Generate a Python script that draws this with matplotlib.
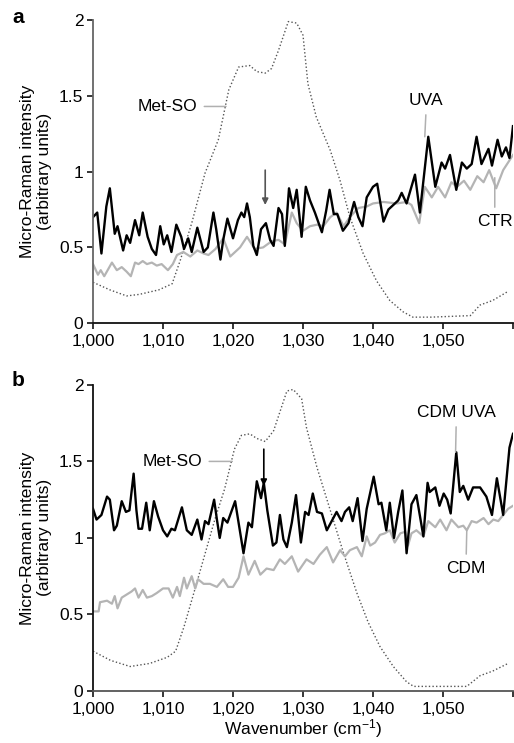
import matplotlib
matplotlib.use('Agg')
import matplotlib.pyplot as plt
from matplotlib.ticker import FixedLocator, FixedFormatter

plt.rcParams['font.family'] = ['Liberation Sans', 'DejaVu Sans']
plt.rcParams['mathtext.default'] = 'regular'
plt.rcParams['font.size'] = 12.5
plt.rcParams['lines.solid_joinstyle'] = 'round'

# ---- panel a: UVA (black), CTR (grey), Met-SO reference (dotted)
uva_a_x = [1000.0, 1000.6, 1001.2, 1001.9, 1002.4, 1003.1, 1003.5, 1004.3, 1004.8, 1005.3,
           1006.0, 1006.6, 1007.1, 1007.8, 1008.4, 1009.0, 1009.6, 1010.1, 1010.6, 1011.2,
           1011.9, 1012.6, 1013.0, 1013.6, 1014.1, 1014.9, 1015.8, 1016.4, 1017.2, 1017.6,
           1018.2, 1018.6, 1019.2, 1020.0, 1020.7, 1021.2, 1021.6, 1022.0, 1022.4, 1022.9,
           1023.4, 1024.0, 1024.7, 1025.3, 1025.8, 1026.5, 1027.0, 1027.4, 1028.0, 1028.6,
           1029.1, 1029.8, 1030.4, 1031.0, 1031.7, 1032.7, 1033.3, 1033.8, 1034.4, 1034.9,
           1035.7, 1036.5, 1037.3, 1037.9, 1038.5, 1039.1, 1040.0, 1040.6, 1041.5, 1042.2,
           1042.9, 1043.6, 1044.1, 1044.8, 1046.0, 1046.7, 1047.9, 1048.9, 1049.8, 1050.3,
           1051.0, 1051.9, 1052.7, 1053.4, 1054.1, 1054.8, 1055.5, 1056.5, 1057.0, 1057.8,
           1058.4, 1059.0, 1059.5, 1060.0]
uva_a_y = [0.70, 0.73, 0.46, 0.77, 0.89, 0.59, 0.64, 0.48, 0.58, 0.53,
           0.68, 0.58, 0.73, 0.57, 0.49, 0.45, 0.64, 0.52, 0.58, 0.47,
           0.65, 0.57, 0.49, 0.56, 0.47, 0.63, 0.47, 0.50, 0.73, 0.62,
           0.42, 0.55, 0.69, 0.56, 0.68, 0.73, 0.70, 0.79, 0.70, 0.51,
           0.45, 0.62, 0.66, 0.55, 0.51, 0.76, 0.72, 0.51, 0.89, 0.76,
           0.88, 0.57, 0.90, 0.81, 0.73, 0.60, 0.74, 0.88, 0.72, 0.72,
           0.61, 0.66, 0.80, 0.70, 0.64, 0.83, 0.90, 0.92, 0.67, 0.75,
           0.78, 0.81, 0.86, 0.79, 0.98, 0.73, 1.23, 0.90, 1.06, 1.02,
           1.11, 0.88, 1.06, 1.02, 1.05, 1.23, 1.05, 1.15, 1.04, 1.21,
           1.10, 1.16, 1.09, 1.30]

ctr_x = [1000.0, 1000.7, 1001.1, 1001.6, 1002.7, 1003.4, 1004.1, 1004.8, 1005.4, 1006.0,
         1006.5, 1007.1, 1007.7, 1008.4, 1009.1, 1009.8, 1010.7, 1011.4, 1012.0, 1012.9,
         1013.9, 1014.9, 1015.8, 1016.5, 1017.5, 1018.6, 1019.6, 1021.0, 1022.0, 1023.1,
         1024.3, 1025.5, 1026.5, 1027.4, 1028.4, 1029.1, 1030.0, 1031.0, 1032.0, 1032.9,
         1033.9, 1034.8, 1035.8, 1036.7, 1037.9, 1039.1, 1040.0, 1041.5, 1043.4, 1044.8,
         1045.5, 1046.6, 1047.4, 1048.4, 1049.3, 1050.3, 1051.2, 1052.0, 1053.0, 1053.9,
         1054.9, 1055.8, 1056.6, 1057.6, 1058.6, 1060.0]
ctr_y = [0.39, 0.32, 0.35, 0.31, 0.40, 0.35, 0.37, 0.34, 0.31, 0.40,
         0.39, 0.41, 0.39, 0.40, 0.38, 0.39, 0.35, 0.39, 0.45, 0.47,
         0.44, 0.48, 0.46, 0.45, 0.49, 0.56, 0.44, 0.50, 0.57, 0.49,
         0.50, 0.54, 0.55, 0.52, 0.73, 0.66, 0.61, 0.64, 0.65, 0.64,
         0.70, 0.73, 0.64, 0.70, 0.76, 0.77, 0.79, 0.80, 0.79, 0.80,
         0.78, 0.66, 0.90, 0.83, 0.90, 0.83, 0.93, 0.90, 0.94, 0.88,
         0.97, 0.93, 1.01, 0.89, 1.01, 1.11]

metso_a_x = [1000.0, 1002.4, 1004.8, 1006.6, 1009.4, 1011.3, 1012.5, 1014.1, 1016.0, 1017.9,
             1019.4, 1020.8, 1022.4, 1023.4, 1024.6, 1025.5, 1026.5, 1027.9, 1029.1, 1030.0,
             1030.7, 1031.9, 1033.9, 1035.3, 1036.7, 1038.6, 1040.5, 1042.4, 1044.3, 1045.7,
             1048.3, 1053.9, 1055.3, 1057.1, 1059.3]
metso_a_y = [0.27, 0.22, 0.18, 0.19, 0.22, 0.26, 0.42, 0.66, 0.99, 1.21,
             1.54, 1.69, 1.70, 1.66, 1.65, 1.68, 1.80, 1.99, 1.98, 1.90,
             1.58, 1.36, 1.14, 0.94, 0.70, 0.46, 0.28, 0.15, 0.075, 0.04,
             0.04, 0.05, 0.12, 0.15, 0.21]

# ---- panel b: CDM UVA (black), CDM (grey), Met-SO reference (dotted)
cdmuva_x = [1000.0, 1000.5, 1001.2, 1002.0, 1002.4, 1003.0, 1003.4, 1004.1, 1004.7, 1005.2,
            1005.8, 1006.2, 1006.5, 1007.0, 1007.6, 1008.1, 1008.7, 1009.3, 1010.0, 1010.6,
            1011.2, 1011.7, 1012.7, 1013.4, 1014.1, 1014.9, 1015.5, 1016.0, 1016.5, 1017.3,
            1017.7, 1018.1, 1018.6, 1019.2, 1020.3, 1021.5, 1022.2, 1022.7, 1023.4, 1024.0,
            1024.4, 1024.9, 1025.7, 1026.2, 1026.7, 1027.2, 1027.7, 1028.4, 1029.0, 1029.7,
            1030.3, 1030.8, 1031.4, 1032.0, 1032.7, 1033.4, 1034.1, 1034.8, 1035.5, 1036.0,
            1036.6, 1037.1, 1037.8, 1038.5, 1039.1, 1040.1, 1040.8, 1041.2, 1041.9, 1042.4,
            1043.0, 1043.6, 1044.2, 1044.8, 1045.5, 1046.2, 1047.2, 1047.8, 1048.1, 1048.9,
            1049.5, 1050.1, 1050.6, 1051.1, 1051.9, 1052.4, 1052.9, 1053.6, 1054.3, 1055.3,
            1056.2, 1057.0, 1057.7, 1058.6, 1059.5, 1060.0]
cdmuva_y = [1.19, 1.12, 1.15, 1.27, 1.25, 1.05, 1.08, 1.24, 1.17, 1.18,
            1.42, 1.18, 1.06, 1.06, 1.23, 1.05, 1.24, 1.14, 1.05, 1.01,
            1.06, 1.05, 1.20, 1.05, 1.02, 1.12, 0.99, 1.11, 1.09, 1.25,
            1.12, 1.00, 1.13, 1.10, 1.24, 0.90, 1.10, 1.07, 1.37, 1.26,
            1.36, 1.18, 0.95, 0.97, 1.15, 0.99, 0.94, 1.10, 1.28, 0.97,
            1.17, 1.15, 1.29, 1.17, 1.16, 1.05, 1.11, 1.17, 1.11, 1.17,
            1.20, 1.11, 1.26, 0.98, 1.19, 1.40, 1.22, 1.23, 1.05, 1.23,
            1.00, 1.17, 1.31, 0.90, 1.22, 1.28, 1.01, 1.36, 1.30, 1.33,
            1.21, 1.29, 1.25, 1.16, 1.56, 1.30, 1.34, 1.25, 1.33, 1.33,
            1.27, 1.15, 1.39, 1.15, 1.59, 1.68]

cdm_x = [1000.0, 1000.8, 1001.0, 1002.0, 1002.7, 1003.1, 1003.5, 1004.1, 1004.8, 1005.5,
         1006.0, 1006.5, 1007.1, 1007.7, 1008.4, 1009.1, 1010.0, 1010.8, 1011.4, 1012.0,
         1012.4, 1013.0, 1013.4, 1014.1, 1014.6, 1015.0, 1015.8, 1016.7, 1017.7, 1018.6,
         1019.3, 1020.0, 1020.8, 1021.5, 1022.2, 1023.1, 1023.9, 1024.8, 1025.8, 1026.7,
         1027.4, 1028.4, 1029.3, 1030.5, 1031.5, 1032.4, 1033.4, 1034.3, 1035.3, 1036.0,
         1036.7, 1037.7, 1038.4, 1039.1, 1039.6, 1040.3, 1041.0, 1041.7, 1042.4, 1043.1,
         1043.9, 1044.6, 1045.0, 1045.5, 1046.2, 1047.2, 1047.9, 1048.9, 1049.6, 1050.5,
         1051.2, 1052.2, 1052.9, 1053.4, 1054.1, 1054.8, 1055.8, 1056.5, 1057.2, 1057.9,
         1058.6, 1059.3, 1060.0]
cdm_y = [0.52, 0.52, 0.58, 0.59, 0.57, 0.62, 0.54, 0.61, 0.63, 0.65,
         0.67, 0.61, 0.66, 0.61, 0.62, 0.64, 0.67, 0.67, 0.61, 0.68,
         0.62, 0.74, 0.67, 0.75, 0.67, 0.73, 0.70, 0.70, 0.68, 0.73,
         0.68, 0.68, 0.74, 0.88, 0.76, 0.85, 0.76, 0.80, 0.79, 0.86,
         0.83, 0.88, 0.78, 0.86, 0.83, 0.89, 0.94, 0.84, 0.92, 0.88,
         0.92, 0.94, 0.88, 1.01, 0.95, 0.97, 1.02, 1.03, 1.05, 0.97,
         1.03, 1.04, 0.95, 1.03, 1.05, 1.01, 1.11, 1.07, 1.12, 1.05,
         1.12, 1.07, 1.08, 1.05, 1.11, 1.10, 1.13, 1.09, 1.12, 1.11,
         1.15, 1.19, 1.21]

metso_b_x = [1000.0, 1002.5, 1005.3, 1008.1, 1010.6, 1011.8, 1013.0, 1014.4, 1015.9, 1017.4,
             1018.8, 1020.2, 1021.2, 1022.4, 1023.4, 1024.6, 1025.8, 1027.7, 1028.6, 1029.8,
             1030.5, 1032.0, 1033.9, 1035.8, 1037.7, 1039.3, 1041.0, 1042.9, 1044.8, 1045.8,
             1053.4, 1055.3, 1057.1, 1059.3]
metso_b_y = [0.26, 0.20, 0.16, 0.18, 0.22, 0.26, 0.42, 0.64, 0.88, 1.12,
             1.32, 1.58, 1.67, 1.68, 1.65, 1.63, 1.70, 1.96, 1.97, 1.91,
             1.72, 1.46, 1.18, 0.90, 0.64, 0.45, 0.29, 0.16, 0.06, 0.03,
             0.03, 0.10, 0.13, 0.18]

x_ticks = [1000, 1010, 1020, 1030, 1040, 1050, 1060]
x_labels = ['1,000', '1,010', '1,020', '1,030', '1,040', '1,050', '']
y_ticks = [0, 0.5, 1, 1.5, 2]
y_labels = ['0', '0.5', '1', '1.5', '2']

GREY = '#b4b4b4'
LEADER = '#b0b0b0'


def style_axis(ax, left_col, bottom_col):
    ax.set_xlim(1000, 1060)
    ax.set_ylim(0, 2)
    ax.spines['top'].set_visible(False)
    ax.spines['right'].set_visible(False)
    ax.spines['left'].set_color(left_col)
    ax.spines['bottom'].set_color(bottom_col)
    ax.spines['left'].set_linewidth(1.3)
    ax.spines['bottom'].set_linewidth(1.3)
    ax.xaxis.set_major_locator(FixedLocator(x_ticks))
    ax.xaxis.set_major_formatter(FixedFormatter(x_labels))
    ax.yaxis.set_major_locator(FixedLocator(y_ticks))
    ax.yaxis.set_major_formatter(FixedFormatter(y_labels))
    ax.tick_params(axis='both', direction='out', length=4, width=1.1, labelsize=12.5)
    ax.tick_params(axis='x', pad=4)
    ax.tick_params(axis='y', pad=3)


def leader(ax, text, xy, xytext, ha, va, relpos):
    ax.annotate(text, xy=xy, xytext=xytext, ha=ha, va=va, fontsize=12.5,
                arrowprops=dict(arrowstyle='-', color=LEADER, lw=1.1,
                                shrinkA=3, shrinkB=0, relpos=relpos))


fig = plt.figure(figsize=(5.14, 7.43), dpi=100)
ax_a = fig.add_axes([0.181, 0.565, 0.817, 0.408])
ax_b = fig.add_axes([0.181, 0.0700, 0.817, 0.4120])

# panel a
ax_a.plot(metso_a_x, metso_a_y, color='#555555', lw=1.0, ls=(0, (1, 1.6)))
ax_a.plot(ctr_x, ctr_y, color=GREY, lw=1.6)
ax_a.plot(uva_a_x, uva_a_y, color='black', lw=1.7)
style_axis(ax_a, '#666666', '#111111')
leader(ax_a, 'Met-SO', (1019.0, 1.43), (1014.9, 1.43), 'right', 'center', (1, 0.5))
leader(ax_a, 'UVA', (1047.4, 1.23), (1047.6, 1.47), 'center', 'center', (0.5, 0))
leader(ax_a, 'CTR', (1057.4, 0.96), (1057.4, 0.67), 'center', 'center', (0.5, 1))
ax_a.annotate('', xy=(1024.6, 0.78), xytext=(1024.6, 1.01),
              arrowprops=dict(arrowstyle='-|>', color='#555555', lw=1.2,
                              mutation_scale=9, shrinkA=0, shrinkB=0))

# panel b
ax_b.plot(metso_b_x, metso_b_y, color='#555555', lw=1.0, ls=(0, (1, 1.6)))
ax_b.plot(cdm_x, cdm_y, color=GREY, lw=1.6)
ax_b.plot(cdmuva_x, cdmuva_y, color='black', lw=1.7)
style_axis(ax_b, '#111111', '#555555')
leader(ax_b, 'Met-SO', (1019.9, 1.50), (1015.6, 1.50), 'right', 'center', (1, 0.5))
leader(ax_b, 'CDM UVA', (1051.8, 1.56), (1051.9, 1.82), 'center', 'center', (0.5, 0))
leader(ax_b, 'CDM', (1053.4, 1.05), (1053.3, 0.80), 'center', 'center', (0.5, 1))
ax_b.annotate('', xy=(1024.4, 1.34), xytext=(1024.4, 1.58),
              arrowprops=dict(arrowstyle='-|>', color='black', lw=1.2,
                              mutation_scale=9, shrinkA=0, shrinkB=0))
ax_b.set_xlabel('Wavenumber (cm$^{-1}$)', fontsize=12.5, labelpad=0)

# y labels and panel letters
ylab = 'Micro-Raman intensity\n(arbitrary units)'
for ax in (ax_a, ax_b):
    pos = ax.get_position()
    fig.text(0.070, pos.y0 + pos.height / 2, ylab, rotation=90, ha='center', va='center',
             multialignment='center', fontsize=12.5, linespacing=1.15)
fig.text(0.036, 0.977, 'a', fontsize=15, fontweight='bold', ha='center', va='center')
fig.text(0.036, 0.488, 'b', fontsize=15, fontweight='bold', ha='center', va='center')

fig.savefig('out.png', dpi=100)
